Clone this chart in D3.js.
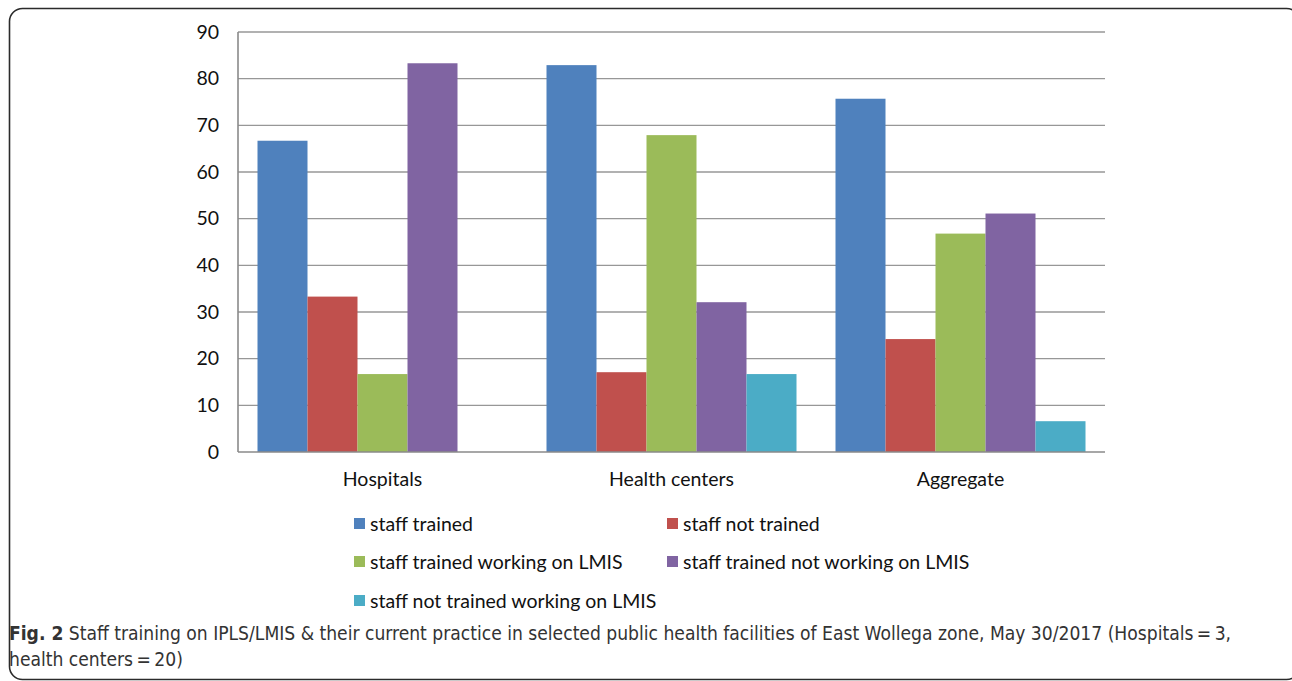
<!DOCTYPE html>
<html>
<head>
<meta charset="utf-8">
<script src="https://cdn.jsdelivr.net/npm/d3@7"></script>
<style>
  html, body { margin: 0; padding: 0; background: #fff; }
  svg { display: block; }
</style>
</head>
<body>
<svg id="chart"></svg>
<script>
// data
const groups = ["Hospitals", "Health centers", "Aggregate"];
const seriesNames = [
  "staff trained",
  "staff not trained",
  "staff trained working on LMIS",
  "staff trained not working on LMIS",
  "staff not trained working on LMIS"
];
const staffTrained = [66.7, 82.9, 75.7];
const staffNotTrained = [33.3, 17.1, 24.2];
const trainedWorking = [16.7, 67.9, 46.8];
const trainedNotWorking = [83.3, 32.1, 51.1];
const notTrainedWorking = [0, 16.7, 6.6];
const yTicks = [0, 10, 20, 30, 40, 50, 60, 70, 80, 90];
const colors = ["#4f81bd", "#c0504d", "#9bbb59", "#8064a2", "#4bacc6"];

const allSeries = [staffTrained, staffNotTrained, trainedWorking, trainedNotWorking, notTrainedWorking];

let width = 1292, height = 681;
const svg = d3.select("#chart").attr("width", width).attr("height", height);
const font = "Lato, 'Open Sans', sans-serif";
const fs = 19.5;

// frame
svg.append("rect")
  .attr("x", 9.5).attr("y", 8.5)
  .attr("width", 1290).attr("height", 671)
  .attr("rx", 13)
  .attr("fill", "none")
  .attr("stroke", "#2b2b2b")
  .attr("stroke-width", 1.6);

const plot = { left: 238, right: 1105, top: 32, bottom: 452 };

let x0 = d3.scaleBand()
  .domain(groups)
  .range([plot.left, plot.right])
  .paddingInner(0)
  .paddingOuter(0);

let x1 = d3.scaleBand()
  .domain(d3.range(seriesNames.length))
  .range([0, x0.bandwidth()])
  .paddingOuter(0.39);

let y = d3.scaleLinear().domain([0, 90]).range([plot.bottom, plot.top]);

// gridlines
svg.append("g")
  .selectAll("line")
  .data(yTicks.filter(d => d > 0))
  .join("line")
  .attr("x1", plot.left).attr("x2", plot.right)
  .attr("y1", d => y(d)).attr("y2", d => y(d))
  .attr("stroke", "#979797")
  .attr("stroke-width", 1.4);

// y labels
svg.append("g")
  .selectAll("text")
  .data(yTicks)
  .join("text")
  .attr("x", 219)
  .attr("y", d => y(d))
  .attr("dy", "0.35em")
  .attr("text-anchor", "end")
  .style("font", `${fs}px ${font}`)
  .attr("fill", "#111")
  .text(d => d);

// bars
const bars = [];
groups.forEach((g, gi) => {
  allSeries.forEach((s, si) => bars.push({ g, si, v: s[gi] }));
});

svg.append("g")
  .selectAll("rect")
  .data(bars.filter(d => d.v > 0))
  .join("rect")
  .attr("x", d => x0(d.g) + x1(d.si))
  .attr("width", x1.bandwidth())
  .attr("y", d => y(d.v))
  .attr("height", d => y(0) - y(d.v))
  .attr("fill", d => colors[d.si]);

// axis lines
svg.append("line")
  .attr("x1", plot.left).attr("x2", plot.left)
  .attr("y1", plot.top).attr("y2", plot.bottom)
  .attr("stroke", "#8a8a8a").attr("stroke-width", 1.6);
svg.append("line")
  .attr("x1", plot.left).attr("x2", plot.right)
  .attr("y1", plot.bottom).attr("y2", plot.bottom)
  .attr("stroke", "#8a8a8a").attr("stroke-width", 1.6);

// category labels
svg.append("g")
  .selectAll("text")
  .data(groups)
  .join("text")
  .attr("x", d => x0(d) + x0.bandwidth() / 2)
  .attr("y", 486)
  .attr("text-anchor", "middle")
  .style("font", `${fs}px ${font}`)
  .attr("fill", "#111")
  .text(d => d);

// legend
const legPos = [[354, 524], [667, 524], [354, 562], [667, 562], [354, 601]];
const leg = svg.append("g")
  .selectAll("g")
  .data(seriesNames)
  .join("g")
  .attr("transform", (d, i) => `translate(${legPos[i][0]},${legPos[i][1]})`);
leg.append("rect")
  .attr("x", 0).attr("y", -6)
  .attr("width", 11).attr("height", 11)
  .attr("fill", (d, i) => colors[i]);
leg.append("text")
  .attr("x", 16).attr("dy", "0.35em")
  .style("font", `${fs}px ${font}`)
  .attr("fill", "#111")
  .text(d => d);

// caption
const capFont = "19.1px 'DejaVu Sans Condensed', 'Liberation Sans Narrow', sans-serif";
const cap = svg.append("text")
  .attr("x", 9).attr("y", 640)
  .style("font", capFont)
  .style("font-stretch", "condensed")
  .attr("fill", "#333");
cap.append("tspan").attr("font-weight", "bold").text("Fig. 2");
cap.append("tspan").text(" Staff training on IPLS/LMIS & their current practice in selected public health facilities of East Wollega zone, May 30/2017 (Hospitals\u2009=\u20093,");
svg.append("text")
  .attr("x", 9).attr("y", 666)
  .style("font", capFont)
  .style("font-stretch", "condensed")
  .attr("fill", "#333")
  .text("health centers\u2009=\u200920)");
</script>
</body>
</html>
